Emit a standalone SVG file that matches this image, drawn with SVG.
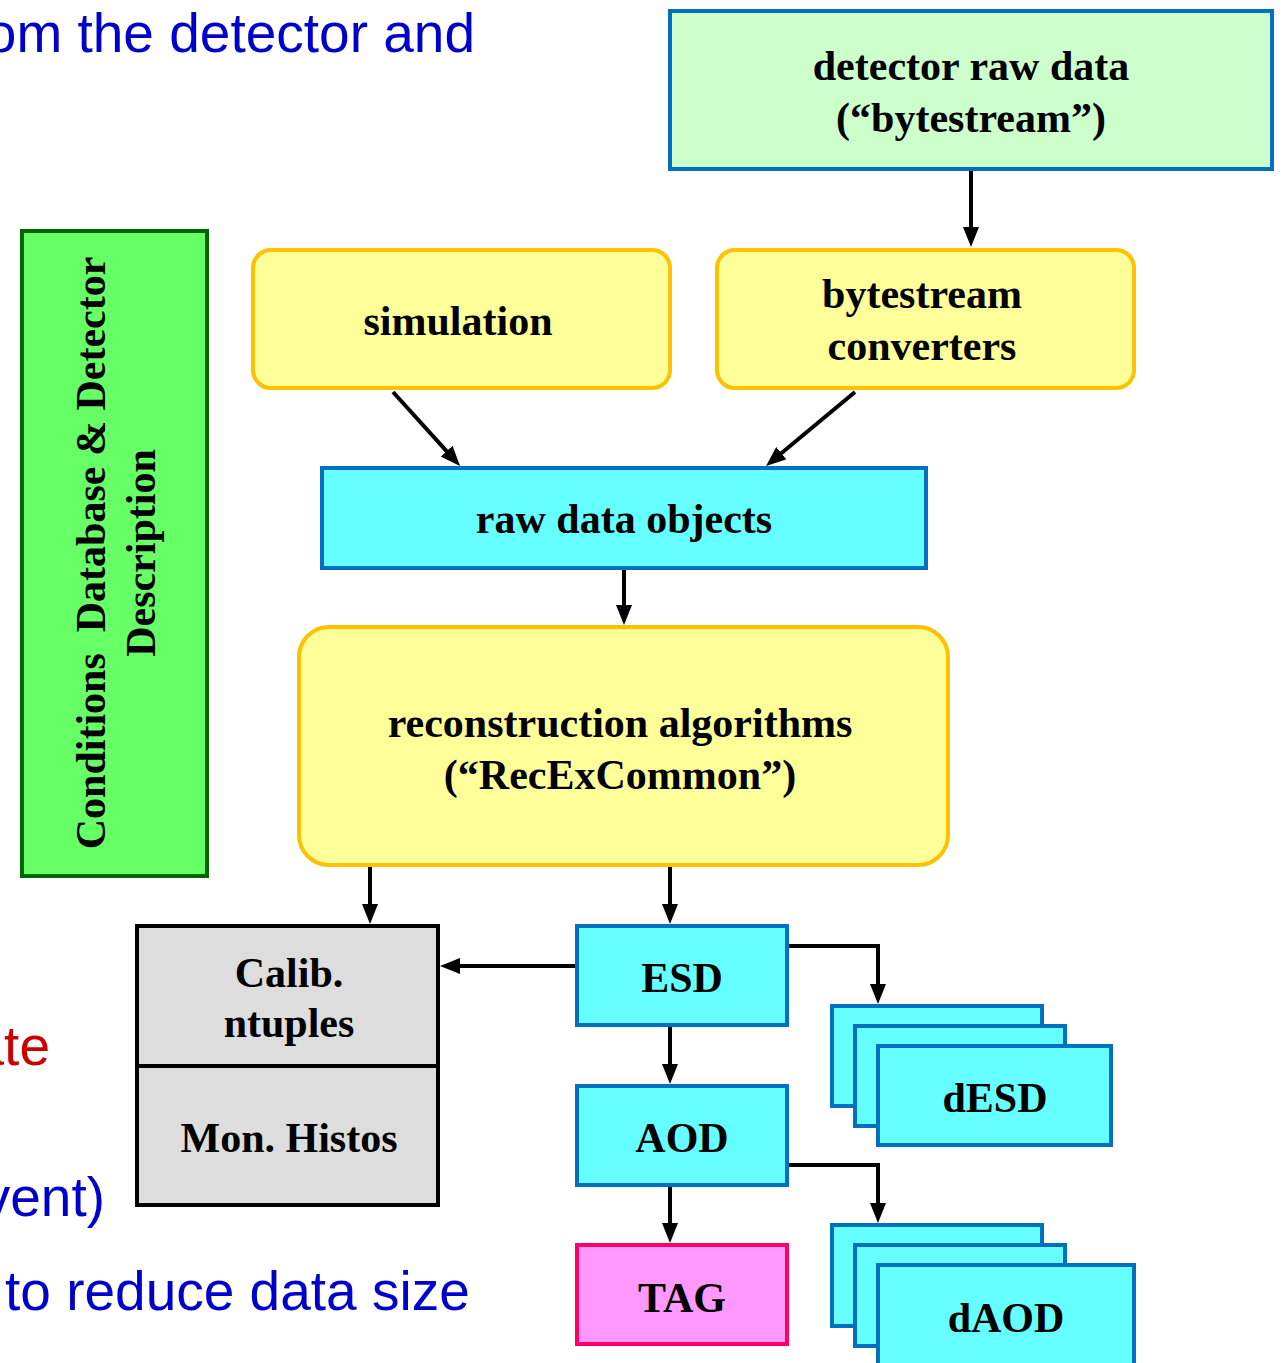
<svg xmlns="http://www.w3.org/2000/svg" width="1285" height="1363" viewBox="0 0 1285 1363">
<style>
.lbl{font-family:"Liberation Serif","Times New Roman",serif;font-weight:bold;font-size:42px;fill:#000;text-anchor:middle}
.bg{font-family:"Liberation Sans",Arial,sans-serif;font-size:55px}
.blue{fill:#0000CC}
.red{fill:#CC0000}
.yel{fill:#FFFF99;stroke:#FFC000;stroke-width:4}
.cyan{fill:#66FFFF;stroke:#0070C0;stroke-width:4}
.conn{fill:none;stroke:#000;stroke-width:4}
</style>
<defs>
<marker id="ah" viewBox="0 0 20 16" refX="4" refY="8" markerWidth="20" markerHeight="16" markerUnits="userSpaceOnUse" orient="auto">
<path d="M0,0 L20,8 L0,16 z" fill="#000"/>
</marker>
</defs>
<rect width="1285" height="1363" fill="#fff"/>

<g id="bg-text">
<text class="bg blue" x="475" y="52" text-anchor="end">om the detector and</text>
<text class="bg red" x="50" y="1065" text-anchor="end">ate</text>
<text class="bg blue" x="105" y="1216" text-anchor="end">vent)</text>
<text class="bg blue" x="5" y="1310">to reduce data size</text>
</g>

<g id="conditions">
<rect x="22" y="231" width="185" height="645" fill="#66FF66" stroke="#006600" stroke-width="4"/>
<text class="lbl" transform="translate(105,553) rotate(-90)" x="0" y="0" xml:space="preserve">Conditions  Database &amp; Detector</text>
<text class="lbl" transform="translate(155,553) rotate(-90)" x="0" y="0">Description</text>
</g>

<g id="detector-raw">
<rect x="670" y="11" width="602" height="158" fill="#CCFFCC" stroke="#0070C0" stroke-width="4"/>
<text class="lbl" x="971" y="80">detector raw data</text>
<text class="lbl" x="971" y="132">(“bytestream”)</text>
</g>

<g id="simulation">
<rect class="yel" x="253" y="250" width="417" height="138" rx="18"/>
<text class="lbl" x="458" y="335">simulation</text>
</g>

<g id="bytestream-converters">
<rect class="yel" x="717" y="250" width="417" height="138" rx="18"/>
<text class="lbl" x="922" y="308">bytestream</text>
<text class="lbl" x="922" y="360">converters</text>
</g>

<g id="raw-data-objects">
<rect class="cyan" x="322" y="468" width="604" height="100"/>
<text class="lbl" x="624" y="533">raw data objects</text>
</g>

<g id="reconstruction">
<rect class="yel" x="299" y="627" width="649" height="238" rx="30"/>
<text class="lbl" x="620" y="737">reconstruction algorithms</text>
<text class="lbl" x="620" y="789">(“RecExCommon”)</text>
</g>

<g id="calib">
<rect x="137" y="926" width="301" height="279" fill="#DDDDDD" stroke="#000" stroke-width="4"/>
<line x1="137" y1="1066" x2="438" y2="1066" stroke="#000" stroke-width="4"/>
<text class="lbl" x="289" y="987">Calib.</text>
<text class="lbl" x="289" y="1037">ntuples</text>
<text class="lbl" x="289" y="1152">Mon. Histos</text>
</g>

<g id="esd">
<rect class="cyan" x="577" y="926" width="210" height="99"/>
<text class="lbl" x="682" y="992">ESD</text>
</g>

<g id="aod">
<rect class="cyan" x="577" y="1086" width="210" height="99"/>
<text class="lbl" x="682" y="1152">AOD</text>
</g>

<g id="tag">
<rect x="577" y="1245" width="210" height="99" fill="#FF99FF" stroke="#FF0066" stroke-width="4"/>
<text class="lbl" x="682" y="1312">TAG</text>
</g>

<g id="desd">
<rect class="cyan" x="832" y="1006" width="210" height="100"/>
<rect class="cyan" x="855" y="1026" width="210" height="100"/>
<rect class="cyan" x="878" y="1046" width="233" height="99"/>
<text class="lbl" x="995" y="1112">dESD</text>
</g>

<g id="daod">
<rect class="cyan" x="832" y="1225" width="210" height="101"/>
<rect class="cyan" x="855" y="1245" width="210" height="101"/>
<rect class="cyan" x="878" y="1265" width="256" height="110"/>
<text class="lbl" x="1006" y="1332">dAOD</text>
</g>

<g id="connectors">
<line class="conn" x1="971" y1="171" x2="971" y2="231" marker-end="url(#ah)"/>
<line class="conn" x1="393" y1="392" x2="449.3" y2="454.1" marker-end="url(#ah)"/>
<line class="conn" x1="855" y1="392" x2="778.3" y2="455.8" marker-end="url(#ah)"/>
<line class="conn" x1="624" y1="570" x2="624" y2="609" marker-end="url(#ah)"/>
<line class="conn" x1="370" y1="867" x2="370" y2="908" marker-end="url(#ah)"/>
<line class="conn" x1="670" y1="867" x2="670" y2="908" marker-end="url(#ah)"/>
<line class="conn" x1="670" y1="1027" x2="670" y2="1068" marker-end="url(#ah)"/>
<line class="conn" x1="670" y1="1187" x2="670" y2="1227" marker-end="url(#ah)"/>
<line class="conn" x1="575" y1="966" x2="456" y2="966" marker-end="url(#ah)"/>
<path class="conn" d="M789,946 H878 V988" marker-end="url(#ah)"/>
<path class="conn" d="M789,1165 H878 V1207" marker-end="url(#ah)"/>
</g>
</svg>
